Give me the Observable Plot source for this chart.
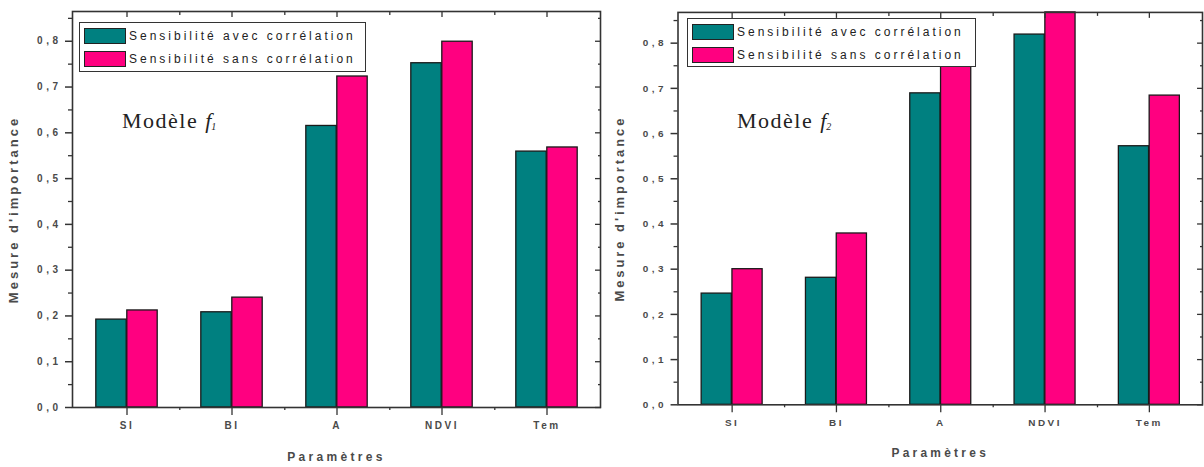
<!DOCTYPE html>
<html>
<head>
<meta charset="utf-8">
<script src="https://cdn.jsdelivr.net/npm/d3@7"></script>
<script src="https://cdn.jsdelivr.net/npm/@observablehq/plot@0.6"></script>
<style>
  body { margin: 0; background: #fff; }
  #wrap { position: relative; width: 1204px; height: 467px; overflow: hidden; background: #fff; }
  .panel { position: absolute; top: 0; }
  .panel svg { display: block; }
  g[aria-label="y-axis tick label"] text { letter-spacing: 3.5px; }
  g[aria-label="x-axis tick label"] text { letter-spacing: 2.5px; }
  g[aria-label="y-axis label"] text { letter-spacing: 3px; font-size: 13px; }
  g[aria-label="x-axis label"] text { letter-spacing: 3.3px; font-size: 12px; }
  .legend { position: absolute; box-sizing: border-box; background: #fff; border: 1.5px solid #333; }
  .legend .sw { position: absolute; box-sizing: border-box; width: 42px; height: 16px; border: 1.3px solid #222; }
  .legend .lt { position: absolute; font: 12px "Liberation Sans", Arial, sans-serif; letter-spacing: 3px; color: #222; white-space: nowrap; line-height: 14px; }
  .model { position: absolute; font: 22px "Liberation Serif", "Times New Roman", serif; letter-spacing: 1.5px; color: #222; white-space: nowrap; line-height: 22px; }
  .model i { letter-spacing: 0; }
  .model sub { font-size: 10px; font-style: italic; vertical-align: -2px; letter-spacing: 0; }
</style>
</head>
<body>
<div id="wrap"></div>
<script>
// ---- data ----
const categories = ["SI", "BI", "A", "NDVI", "Tem"];
const series = ["Sensibilité avec corrélation", "Sensibilité sans corrélation"];
const colors = ["#008080", "#ff0080"];
const f1Avec = [0.192, 0.208, 0.615, 0.752, 0.559];
const f1Sans = [0.212, 0.240, 0.723, 0.799, 0.568];
const f2Avec = [0.246, 0.281, 0.689, 0.819, 0.572];
const f2Sans = [0.300, 0.379, 0.780, 0.868, 0.684];
const yTicks = [0, 0.1, 0.2, 0.3, 0.4, 0.5, 0.6, 0.7, 0.8];
const yMinorTicks = [0.05, 0.15, 0.25, 0.35, 0.45, 0.55, 0.65, 0.75, 0.85];
const modelNames = ["1", "2"];
const yLabel = "Mesure d'importance";
const xLabel = "Paramètres";

const wrap = document.getElementById("wrap");

function makePanel(avec, sans, cfg) {
  const rows = categories.map((c, i) => ({cat: c, avec: avec[i], sans: sans[i]}));
  const band = (cfg.width - cfg.marginLeft - cfg.marginRight) / categories.length;
  const half = band / 2;
  const gap = half - 31;
  const fmt = d => d.toFixed(1).replace(".", ",");
  const plot = Plot.plot({
    width: cfg.width,
    height: 467,
    marginLeft: cfg.marginLeft,
    marginRight: cfg.marginRight,
    marginTop: cfg.marginTop,
    marginBottom: 60,
    x: {domain: categories, padding: 0, axis: null},
    y: {domain: [0, cfg.yMax], axis: null},
    style: {fontFamily: "'Liberation Sans', Arial, sans-serif", fontSize: "10px", background: "transparent", overflow: "visible"},
    marks: [
      Plot.barY(rows, {x: "cat", y: "avec", fill: colors[0], stroke: "#1a1a1a", strokeWidth: 1.3, insetLeft: gap, insetRight: half}),
      Plot.barY(rows, {x: "cat", y: "sans", fill: colors[1], stroke: "#1a1a1a", strokeWidth: 1.3, insetLeft: half, insetRight: gap}),
      Plot.frame({stroke: "#333", strokeWidth: 1.6}),
      // left axis
      Plot.axisY(yTicks, {anchor: "left", tickSize: 7, tickPadding: 4, tickFormat: fmt, stroke: "#333", strokeWidth: 1.5,
        fill: "#4a4a4a", fontWeight: "bold", fontSize: 10,
        label: yLabel, labelArrow: "none", labelAnchor: "center", labelOffset: cfg.labelOffset}),
      Plot.axisY(yMinorTicks, {anchor: "left", tickSize: 4, stroke: "#333", strokeWidth: 1.3, fill: "none", label: null}),
      // right axis (inward)
      Plot.axisY(yTicks, {anchor: "right", tickSize: -6, stroke: "#333", strokeWidth: 1.3, fill: "none", label: null}),
      Plot.axisY(yMinorTicks, {anchor: "right", tickSize: -3, stroke: "#333", strokeWidth: 1.3, fill: "none", label: null}),
      // bottom axis
      Plot.axisX(categories, {anchor: "bottom", tickSize: 8, tickPadding: 6, stroke: "#333", strokeWidth: 1.3,
        fill: "#4a4a4a", fontWeight: "bold", fontSize: 10,
        label: xLabel, labelArrow: "none", labelAnchor: "center", labelOffset: 53}),
      Plot.axisX(categories.slice(0, -1), {anchor: "bottom", tickSize: 3, dx: half, stroke: "#333", strokeWidth: 1.3, fill: "none", label: null}),
      // top axis (inward)
      Plot.axisX(categories, {anchor: "top", tickSize: -5, stroke: "#333", strokeWidth: 1.3, fill: "none", label: null}),
      Plot.axisX(categories.slice(0, -1), {anchor: "top", tickSize: -3, dx: half, stroke: "#333", strokeWidth: 1.3, fill: "none", label: null})
    ]
  });
  const div = document.createElement("div");
  div.className = "panel";
  div.style.left = cfg.left + "px";
  div.appendChild(plot);

  // legend (inside plot area)
  const lg = document.createElement("div");
  lg.className = "legend";
  lg.style.left = cfg.legend.x + "px";
  lg.style.top = cfg.legend.y + "px";
  lg.style.width = cfg.legend.w + "px";
  lg.style.height = cfg.legend.h + "px";
  series.forEach((s, i) => {
    const sw = document.createElement("div");
    sw.className = "sw";
    sw.style.background = colors[i];
    sw.style.left = "4px";
    sw.style.top = (5 + i * 22.5) + "px";
    lg.appendChild(sw);
    const t = document.createElement("div");
    t.className = "lt";
    t.textContent = s;
    t.style.left = "49px";
    t.style.top = (6 + i * 22.5) + "px";
    lg.appendChild(t);
  });
  div.appendChild(lg);

  const m = document.createElement("div");
  m.className = "model";
  m.style.left = cfg.model.x + "px";
  m.style.top = cfg.model.y + "px";
  m.innerHTML = "Modèle <i>f</i><sub>" + cfg.modelName + "</sub>";
  div.appendChild(m);
  wrap.appendChild(div);
}

makePanel(f1Avec, f1Sans, {
  left: 0, width: 602, marginLeft: 72, marginRight: 2, marginTop: 11, yMax: 0.865, labelOffset: 64,
  legend: {x: 79, y: 22, w: 287, h: 50}, model: {x: 122, y: 110}, modelName: modelNames[0]
});
makePanel(f2Avec, f2Sans, {
  left: 602, width: 606, marginLeft: 76, marginRight: 2, marginTop: 12, yMax: 0.868, labelOffset: 64,
  legend: {x: 85, y: 18, w: 289, h: 49}, model: {x: 135, y: 110}, modelName: modelNames[1]
});
</script>
</body>
</html>
